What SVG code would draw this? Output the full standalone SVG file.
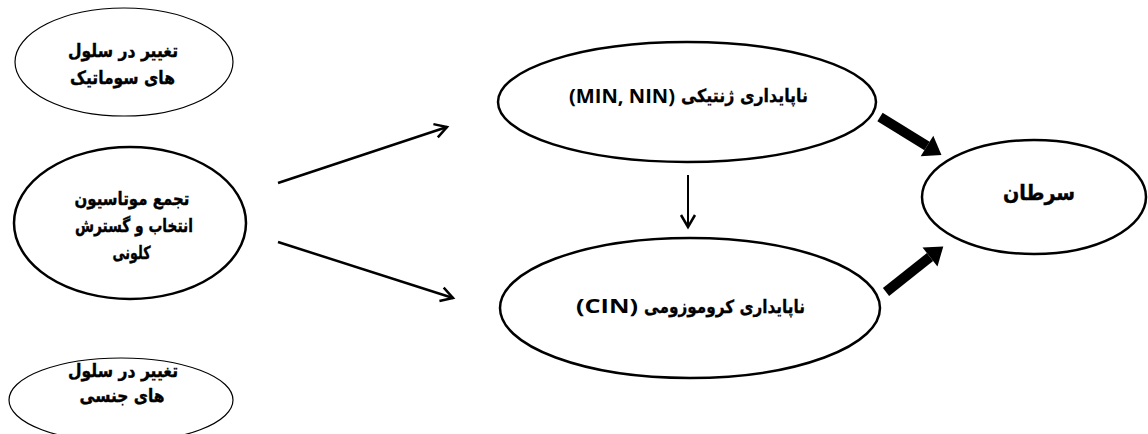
<svg xmlns="http://www.w3.org/2000/svg" width="1148" height="434" viewBox="0 0 1148 434">
<style>
.n{fill:#fff;stroke:#000}
.thin{stroke-width:1.2}
.bold{stroke-width:2.5}
.t{font-family:"DejaVu Sans",sans-serif;font-weight:bold;font-size:18px;fill:#000;stroke:#000;stroke-width:0.4;text-anchor:middle}
.ar{font-family:"DejaVu Sans",sans-serif;font-weight:bold;font-size:18px;fill:#000;stroke:#000;stroke-width:0.3;text-anchor:start}
.lt{font-family:"Open Sans","Liberation Sans",sans-serif;font-weight:bold;font-size:20px;fill:#000;text-anchor:end}
.c{stroke:#000;fill:none}
</style>
<defs>
<marker id="open" markerUnits="userSpaceOnUse" markerWidth="16" markerHeight="18" refX="12" refY="7" orient="auto" overflow="visible">
<path d="M0,0 L12,7 L0,14" fill="none" stroke="#000" stroke-width="2.5"/>
</marker>
<marker id="big" markerUnits="userSpaceOnUse" markerWidth="20" markerHeight="26" refX="0" refY="12" orient="auto" overflow="visible">
<path d="M0,0 L17,12 L0,24 Z" fill="#000"/>
</marker>
</defs>
<rect width="1148" height="434" fill="#fff"/>
<g id="somatic">
<ellipse class="n thin" cx="124" cy="62" rx="109" ry="54"/>
<text class="t" x="123" y="57" textLength="110" lengthAdjust="spacingAndGlyphs">تغییر در سلول</text>
<text class="t" x="122.5" y="84" textLength="105" lengthAdjust="spacingAndGlyphs">های سوماتیک</text>
</g>
<g id="accumulation">
<ellipse class="n bold" cx="130" cy="223" rx="116" ry="76"/>
<text class="t" x="132" y="205" textLength="115" lengthAdjust="spacingAndGlyphs">تجمع موتاسیون</text>
<text class="t" x="134" y="232" textLength="118" lengthAdjust="spacingAndGlyphs">انتخاب و گسترش</text>
<text class="t" x="131.5" y="259" textLength="38" lengthAdjust="spacingAndGlyphs">کلونی</text>
</g>
<g id="germline">
<ellipse class="n thin" cx="121" cy="400" rx="112" ry="42"/>
<text class="t" x="123" y="377" textLength="110" lengthAdjust="spacingAndGlyphs">تغییر در سلول</text>
<text class="t" x="122" y="402" textLength="85" lengthAdjust="spacingAndGlyphs">های جنسی</text>
</g>
<g id="genetic">
<ellipse class="n bold" cx="687" cy="102" rx="189" ry="60"/>
<text class="lt" x="675" y="103" textLength="106" lengthAdjust="spacingAndGlyphs">(MIN, NIN)</text>
<text class="ar" x="681" y="102" textLength="127" lengthAdjust="spacingAndGlyphs">ناپایداری ژنتیکی</text>
</g>
<g id="chromosomal">
<ellipse class="n bold" cx="690" cy="308" rx="190" ry="70"/>
<text class="lt" x="638" y="313" textLength="62" lengthAdjust="spacingAndGlyphs">(CIN)</text>
<text class="ar" x="644" y="313" textLength="161" lengthAdjust="spacingAndGlyphs">ناپایداری کروموزومی</text>
</g>
<g id="cancer">
<ellipse class="n bold" cx="1034" cy="197" rx="112" ry="57"/>
<text class="t" x="1039" y="200" textLength="72" lengthAdjust="spacingAndGlyphs" style="font-size:21px">سرطان</text>
</g>
<g id="connectors">
<line class="c" x1="278" y1="183" x2="447" y2="127" stroke-width="2.5" marker-end="url(#open)"/>
<line class="c" x1="278" y1="242" x2="453" y2="298" stroke-width="2.5" marker-end="url(#open)"/>
<line class="c" x1="688" y1="175" x2="688" y2="227" stroke-width="2" marker-end="url(#open)"/>
<line class="c" x1="880" y1="117" x2="927" y2="146" stroke-width="10" marker-end="url(#big)"/>
<line class="c" x1="886" y1="292" x2="930" y2="257" stroke-width="10" marker-end="url(#big)"/>
</g>
</svg>
